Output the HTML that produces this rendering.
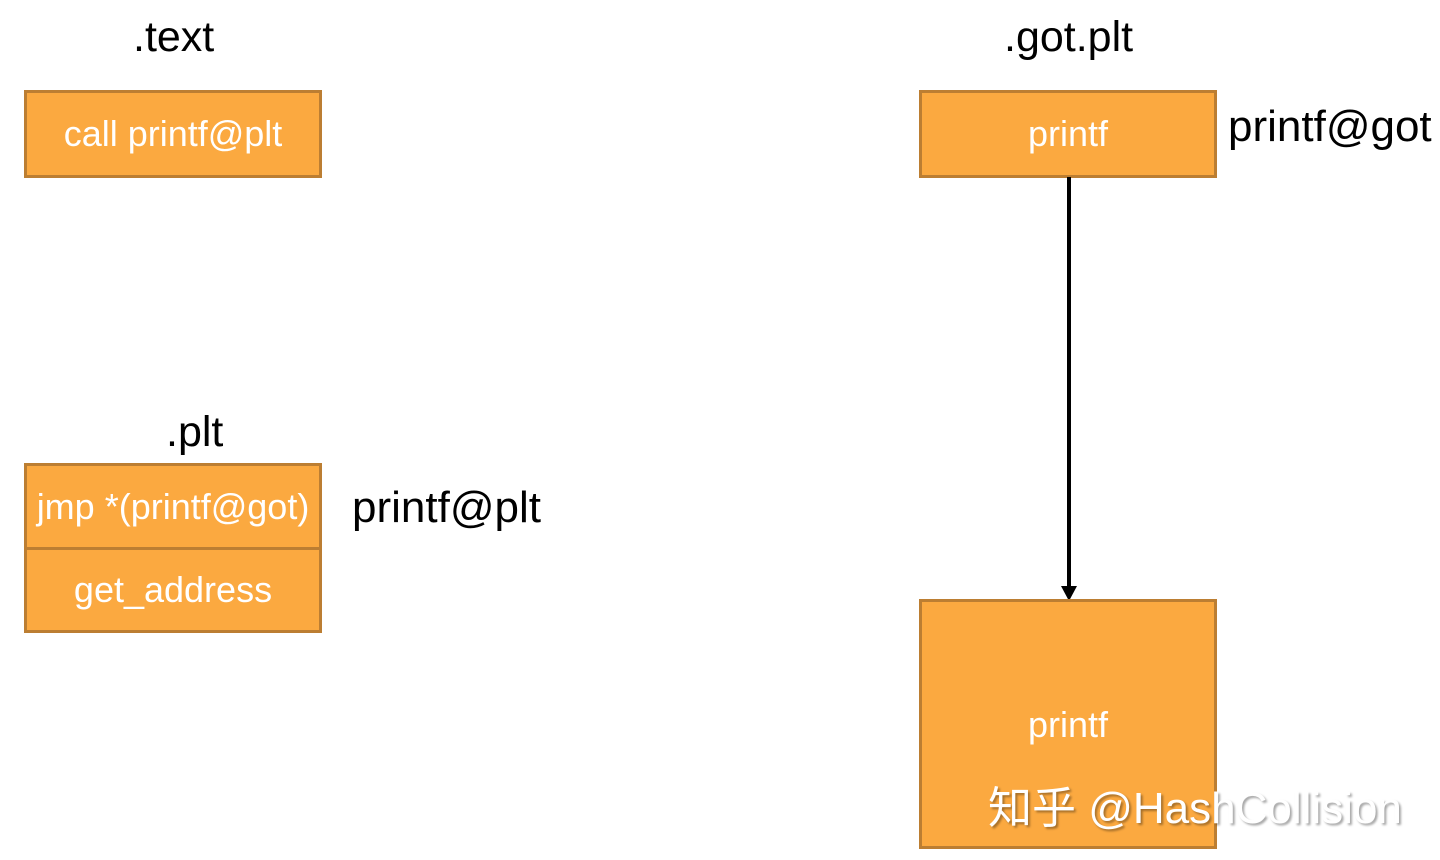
<!DOCTYPE html>
<html><head><style>
body{margin:0;width:1440px;height:860px;background:#fff;position:relative;overflow:hidden;font-family:"Liberation Sans",Arial,sans-serif}
.b{position:absolute;box-sizing:border-box;background:#FBA940;border:3px solid #BC7E32;color:#fff;font-size:36px;display:flex;align-items:center;justify-content:center;white-space:nowrap}
.t{position:absolute;color:#000;font-size:43px;white-space:nowrap}
</style></head><body>
<div class="t" style="left:133px;top:13px">.text</div>
<div class="b" style="left:24px;top:90px;width:298px;height:88px">call printf@plt</div>
<div class="t" style="left:166px;top:408px">.plt</div>
<div class="b" style="left:24px;top:463px;width:298px;height:87px">jmp *(printf@got)</div>
<div class="b" style="left:24px;top:547px;width:298px;height:86px">get_address</div>
<div class="t" style="left:352px;top:483px;font-size:44px">printf@plt</div>
<div class="t" style="left:1004px;top:13px">.got.plt</div>
<div class="b" style="left:919px;top:90px;width:298px;height:88px">printf</div>
<div class="t" style="left:1228px;top:102px;font-size:44px">printf@got</div>
<svg style="position:absolute;left:0;top:0" width="1440" height="860">
<line x1="1069" y1="177" x2="1069" y2="588" stroke="#000" stroke-width="4"/>
<polygon points="1061,586 1077,586 1069,601" fill="#000"/>
</svg>
<div class="b" style="left:919px;top:599px;width:298px;height:250px">
<span style="position:absolute;left:0;right:0;top:102px;text-align:center">printf</span></div>
<div style="position:absolute;left:988px;top:772px;font-size:44px;color:#fff;font-family:'Liberation Sans','Noto Sans CJK SC',sans-serif;text-shadow:2px 2px 2px rgba(0,0,0,0.35);white-space:nowrap">知乎 @HashCollision</div>
</body></html>
